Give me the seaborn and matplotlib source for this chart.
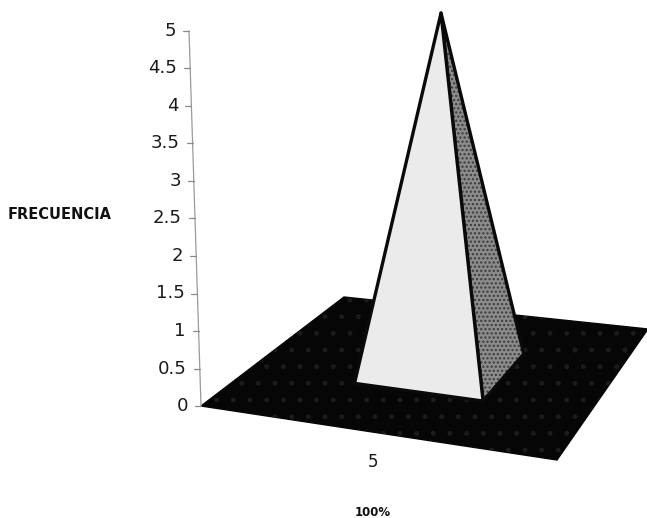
import numpy as np
import matplotlib
matplotlib.use("Agg")
import matplotlib.pyplot as plt
from matplotlib.patches import Polygon
import seaborn as sns

# --- data ---------------------------------------------------------------
categorias = ["5"]
frecuencia = [5]
marcas_eje = [0, 0.5, 1, 1.5, 2, 2.5, 3, 3.5, 4, 4.5, 5]
etiquetas_eje = ["0", "0.5", "1", "1.5", "2", "2.5", "3", "3.5", "4", "4.5", "5"]
titulo_y = "FRECUENCIA"
titulo_x = "100%"

# --- style --------------------------------------------------------------
sns.set_theme(style="white")
plt.rcParams["font.family"] = ["DejaVu Sans"]
plt.rcParams["hatch.linewidth"] = 1.1

W, H = 647, 518
PX = 75.0      # pixels per unit on the value axis
Y0 = 406       # pixel row of the value 0

fig = plt.figure(figsize=(W / 100, H / 100), dpi=100)
ax = fig.add_axes([0, 0, 1, 1])
ax.set_xlim(0, W)
ax.set_ylim((Y0 - H) / PX, Y0 / PX)
ax.axis("off")


def fila(p):
    """Convert a pixel row to value units."""
    return (Y0 - p) / PX


# corners of the floor (x in pixels, y in value units)
C00 = np.array([201.0, 0.0])
C10 = np.array([557.0, fila(460)])
C01 = np.array([344.0, fila(297)])
C11 = np.array([648.0, fila(329)])


def suelo(u, v):
    return (1 - u) * (1 - v) * C00 + u * (1 - v) * C10 + (1 - u) * v * C01 + u * v * C11


def proyectar(u, v, z):
    x, y = suelo(u, v)
    return np.array([x, y + z * (1 - 0.094 * v)])


# floor
piso = [suelo(0, 0), suelo(1, 0), suelo(1, 1), suelo(0, 1)]
ax.add_patch(Polygon(piso, closed=True, facecolor="#060606", edgecolor="#060606",
                     linewidth=1, zorder=1))
ax.add_patch(Polygon(piso, closed=True, facecolor="none", edgecolor="#1c1c1c",
                     hatch=".", linewidth=0, zorder=1.5))

# value axis (leans slightly with the perspective)
INCL = 12 / 5   # pixels of lean per unit of value
def eje_x(t):
    return C00[0] - INCL * t

ax.plot([eje_x(0), eje_x(marcas_eje[-1])], [0, marcas_eje[-1]],
        color="#9a9a9a", linewidth=0.9, zorder=2)
for t, lab in zip(marcas_eje, etiquetas_eje):
    x = eje_x(t)
    ax.plot([x - 6, x], [t, t], color="#8a8a8a", linewidth=0.9, zorder=2)
    ax.text(x - 13, t, lab, ha="right", va="center", fontsize=13.1, color="#1a1a1a")

# pyramids
n = len(categorias)
vc, half = 0.53, 0.19
for i, (cat, val) in enumerate(zip(categorias, frecuencia)):
    uc = (i + 0.5) / n
    hu = half / n
    fl = proyectar(uc - hu, vc - half, 0)
    fr = proyectar(uc + hu, vc - half, 0)
    br = proyectar(uc + hu, vc + half, 0)
    cima = proyectar(uc, vc, val)

    lado = [fr, br, cima]
    ax.add_patch(Polygon(lado, closed=True, facecolor="#8c8c8c", edgecolor="#3c3c3c",
                         hatch="....", linewidth=0, zorder=3))
    ax.add_patch(Polygon(lado, closed=True, facecolor="none", edgecolor="#0a0a0a",
                         linewidth=2.4, joinstyle="round", zorder=4))
    frente = [fl, fr, cima]
    ax.add_patch(Polygon(frente, closed=True, facecolor="#ebebeb", edgecolor="#0a0a0a",
                         linewidth=2.4, joinstyle="round", zorder=5))

    base = suelo(uc, 0)
    ax.text(base[0] - 6, base[1] - 29 / PX, cat, ha="center", va="center",
            fontsize=12, color="#1a1a1a")

# axis titles
ax.text(8, fila(215), titulo_y, ha="left", va="center", fontsize=10.5,
        fontweight="bold", color="#111111")
ax.text(373, fila(512), titulo_x, ha="center", va="center", fontsize=8.5,
        fontweight="bold", color="#111111")

fig.savefig("out.png", dpi=100)
